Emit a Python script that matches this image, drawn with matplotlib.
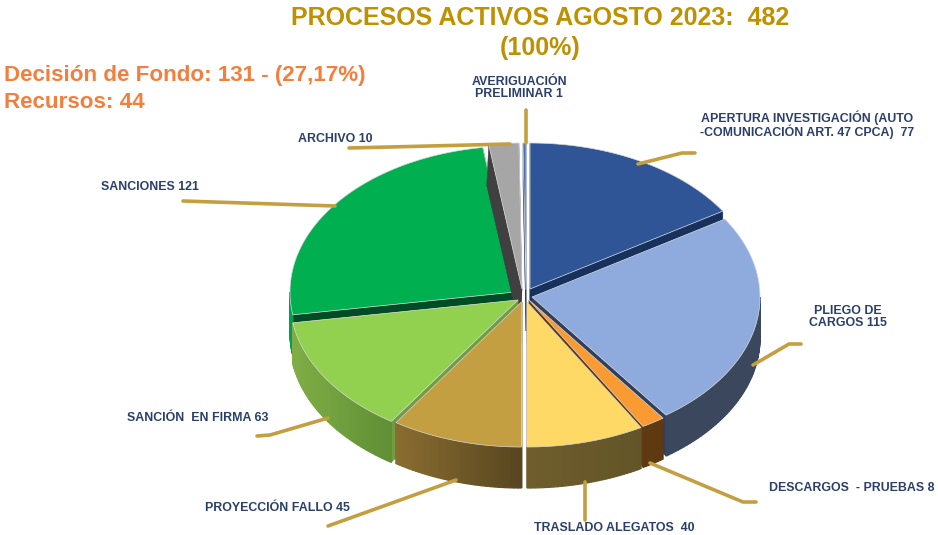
import numpy as np
import matplotlib
matplotlib.use('Agg')
import matplotlib.pyplot as plt
from matplotlib.patches import Polygon
from matplotlib.colors import to_rgb

plt.rcParams['font.family'] = ['Liberation Sans', 'DejaVu Sans']

# data, clockwise from the top
names = ['AVERIGUACIÓN\nPRELIMINAR', 'APERTURA INVESTIGACIÓN (AUTO\n-COMUNICACIÓN ART. 47 CPCA)  ',
         'PLIEGO DE\nCARGOS', 'DESCARGOS  - PRUEBAS', 'TRASLADO ALEGATOS  ',
         'PROYECCIÓN FALLO', 'SANCIÓN  EN FIRMA', 'SANCIONES', 'ARCHIVO']
values = [1, 77, 115, 8, 40, 45, 63, 121, 10]

top_colors = ['#4A6FB0', '#2F5597', '#8FAADC', '#F99A33', '#FFD966', '#C49F42', '#92D050', '#00B050', '#A6A6A6']
# wall shading, from its left end to its right end on screen
wall_left = ['#1F3864', '#1F3864', '#3A475C', '#5F3A10', '#6F5D2D', '#8A6D30', '#7FAE45', '#00A050', '#404040']
wall_right = ['#1F3864', '#1F3864', '#3A475C', '#5F3A10', '#635527', '#574520', '#5F8E35', '#00A050', '#404040']
cut_colors = ['#1F3864', '#17315F', '#2F3F5C', '#5F3A10', '#6F5D2D', '#6A5526', '#6F9E3F', '#004D25', '#404040']

# pixel layout of each slice
apex = [(526, 290), (530, 289), (532, 297), (529, 300), (527, 302),
        (521.5, 302), (518, 300), (515, 292), (522, 289)]
radius_x = [230, 228, 228, 228, 228, 226, 228, 225, 232]
radius_y = [147, 146, 146, 146, 145, 145, 146, 146, 146]
cut_shift = [0, 0, 0, 0, 0, 0, 0, 0, -2]
draw_order = [7, 8, 0, 1, 6, 2, 5, 3, 4]

depth = 41
start_angle = -0.75

leader_color = '#C49F42'
leaders = [[(525.5, 110), (525.5, 143)],
           [(638, 164), (682, 153), (695, 153)],
           [(753, 365), (789, 344), (801, 344)],
           [(650, 463), (743, 502), (756, 502)],
           [(585, 482), (585, 520)],
           [(456, 480), (328, 526)],
           [(328, 418), (270, 435), (257, 436)],
           [(335, 206), (183, 201)],
           [(349, 148), (510, 144)]]
label_pos = [(519, 88), (807, 125), (848, 317), (852, 488), (614, 528),
             (277, 508), (198, 418), (150, 187), (335, 139)]


def rim(i, angles):
    a = np.radians(angles)
    return (apex[i][0] + radius_x[i] * np.sin(a), apex[i][1] - radius_y[i] * np.cos(a))


fig = plt.figure(figsize=(9.38, 5.35), dpi=100)
ax = fig.add_axes([0, 0, 1, 1])
ax.set_xlim(0, 938)
ax.set_ylim(535, 0)
ax.axis('off')

edges = start_angle + np.cumsum([0] + values) / sum(values) * 360

for i in draw_order:
    a0, a1 = edges[i], edges[i + 1]
    cx, cy = apex[i]

    # cut faces
    for a in (a0, a1):
        x, y = rim(i, a)
        dx = cut_shift[i]
        ax.add_patch(Polygon([(cx, cy), (x, y), (x + dx, y + depth), (cx + dx, cy + depth)],
                             fc=cut_colors[i], ec=cut_colors[i], lw=0.3, zorder=2))

    # outer wall, front part only, as small strips for the shading
    w0, w1 = max(a0, 90), min(a1, 270)
    if w1 > w0:
        steps = np.linspace(w0, w1, int(w1 - w0) + 2)
        c0, c1 = np.array(to_rgb(wall_left[i])), np.array(to_rgb(wall_right[i]))
        xs, ys = rim(i, steps)
        x_lo, x_hi = xs.min(), xs.max()
        for k in range(len(steps) - 1):
            t = ((xs[k] + xs[k + 1]) / 2 - x_lo) / max(x_hi - x_lo, 1)
            col = c0 * (1 - t) + c1 * t
            ax.add_patch(Polygon([(xs[k], ys[k]), (xs[k + 1], ys[k + 1]),
                                  (xs[k + 1], ys[k + 1] + depth), (xs[k], ys[k] + depth)],
                                 fc=col, ec=col, lw=0.9, zorder=2))

    # top face
    arc = np.linspace(a0, a1, max(int(a1 - a0) * 2, 4))
    xs, ys = rim(i, arc)
    pts = [(cx, cy)] + list(zip(xs, ys))
    ax.add_patch(Polygon(pts, fc=top_colors[i], ec='#D9D9D9', lw=0.5, zorder=2))

for path in leaders:
    px, py = zip(*path)
    ax.plot(px, py, color=leader_color, lw=2.6, solid_capstyle='round',
            solid_joinstyle='round', zorder=3)

for i, name in enumerate(names):
    sep = '' if name.endswith(' ') else ' '
    ax.text(label_pos[i][0], label_pos[i][1], f'{name}{sep}{values[i]}', ha='center', va='center',
            ma='center', fontsize=8.9, fontweight='bold', color='#2B3F6B', linespacing=0.95, zorder=4)

ax.text(540, 33, 'PROCESOS ACTIVOS AGOSTO 2023:  482\n(100%)', ha='center', va='center',
        ma='center', fontsize=18, fontweight='bold', color='#BF9000', linespacing=1.3)
ax.text(4, 89, 'Decisión de Fondo: 131 - (27,17%)\nRecursos: 44', ha='left', va='center',
        fontsize=16.1, fontweight='bold', color='#F47F3C', linespacing=1.4)

fig.savefig('out.png', dpi=100)
